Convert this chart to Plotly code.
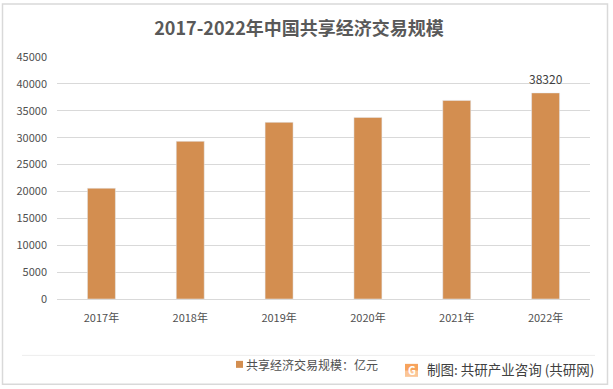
import plotly.graph_objects as go

years = ["2017年", "2018年", "2019年", "2020年", "2021年", "2022年"]
values = [20600, 29320, 32850, 33770, 36930, 38320]
series_name = "共享经济交易规模：亿元"
title = "2017-2022年中国共享经济交易规模"
source = "制图: 共研产业咨询 (共研网)"

W, H = 613, 389
L, R, T, B = 57, 590, 56.5, 299
FONT = "Noto Sans CJK SC"
TICK = "#505050"

def px(x):
    return (x - L) / (R - L)

def py(y):
    return (B - y) / (B - T)

fig = go.Figure(go.Bar(
    x=years, y=values, name=series_name, marker_color="#D38E50", width=0.315,
    showlegend=False,
))

def line(x0, y0, x1, y1, color):
    return dict(type="line", xref="paper", yref="paper", x0=px(x0), y0=py(y0), x1=px(x1), y1=py(y1),
                line=dict(color=color, width=1), layer="below")

def box(x0, y0, x1, y1, color):
    return dict(type="rect", xref="paper", yref="paper", x0=px(x0), y0=py(y0), x1=px(x1), y1=py(y1),
                line=dict(width=0), fillcolor=color, layer="below")

shapes = [
    dict(type="rect", xref="paper", yref="paper", x0=px(2.5), y0=py(3.5), x1=px(607.5), y1=py(384.5),
         line=dict(color="#D9D9D9", width=1.5), fillcolor="rgba(0,0,0,0)", layer="below"),
    line(22, 355.5, 595, 355.5, "#EDEDED"),
    box(236, 361, 243, 368, "#D38E50"),
    box(405, 364, 418, 371, "#F7A35C"),
    box(405, 371, 418, 377, "#FBC596"),
]

annotations = [
    dict(text=str(values[-1]), x=years[-1], y=values[-1], xref="x", yref="y", xanchor="center", yanchor="middle",
         yshift=14, showarrow=False, font=dict(size=12, color="#404040", family=FONT)),
    dict(text=series_name, xref="paper", yref="paper", x=px(244), y=py(364.5), xanchor="left", yanchor="middle",
         showarrow=False, font=dict(size=12, color=TICK, family=FONT)),
    dict(text=source, xref="paper", yref="paper", x=px(425), y=py(369), xanchor="left", yanchor="middle",
         showarrow=False, font=dict(size=13.5, color="#404040", family=FONT)),
    dict(text="<b>G</b>", xref="paper", yref="paper", x=px(411.5), y=py(370.5), xanchor="center", yanchor="middle",
         showarrow=False, font=dict(size=11, color="#FFFFFF", family=FONT)),
]

fig.update_layout(
    width=W, height=H, autosize=False,
    margin=dict(l=L, r=W - R, t=T, b=H - B),
    paper_bgcolor="#FFFFFF", plot_bgcolor="#FFFFFF",
    font=dict(family=FONT, color="#595959"),
    title=dict(text="<b>" + title + "</b>", x=299 / W, xanchor="center", y=1 - 29 / H, yanchor="middle",
               font=dict(size=18, color="#595959", family=FONT)),
    showlegend=False,
    shapes=shapes, annotations=annotations,
    xaxis=dict(type="category", showgrid=False, showline=True, linecolor="#D9D9D9", linewidth=1,
               ticks="", tickfont=dict(size=11, color=TICK, family=FONT), ticklabelstandoff=9),
    yaxis=dict(range=[0, 45000], dtick=5000, tickformat="d", showgrid=True, gridcolor="#D9D9D9", gridwidth=1,
               zeroline=False, showline=False, ticks="", ticklabelstandoff=9,
               tickfont=dict(size=11, color=TICK, family=FONT)),
)

fig.write_html("out.html", config=dict(displayModeBar=False),
               post_script="document.body.style.margin='0';document.documentElement.style.overflow='hidden';")
